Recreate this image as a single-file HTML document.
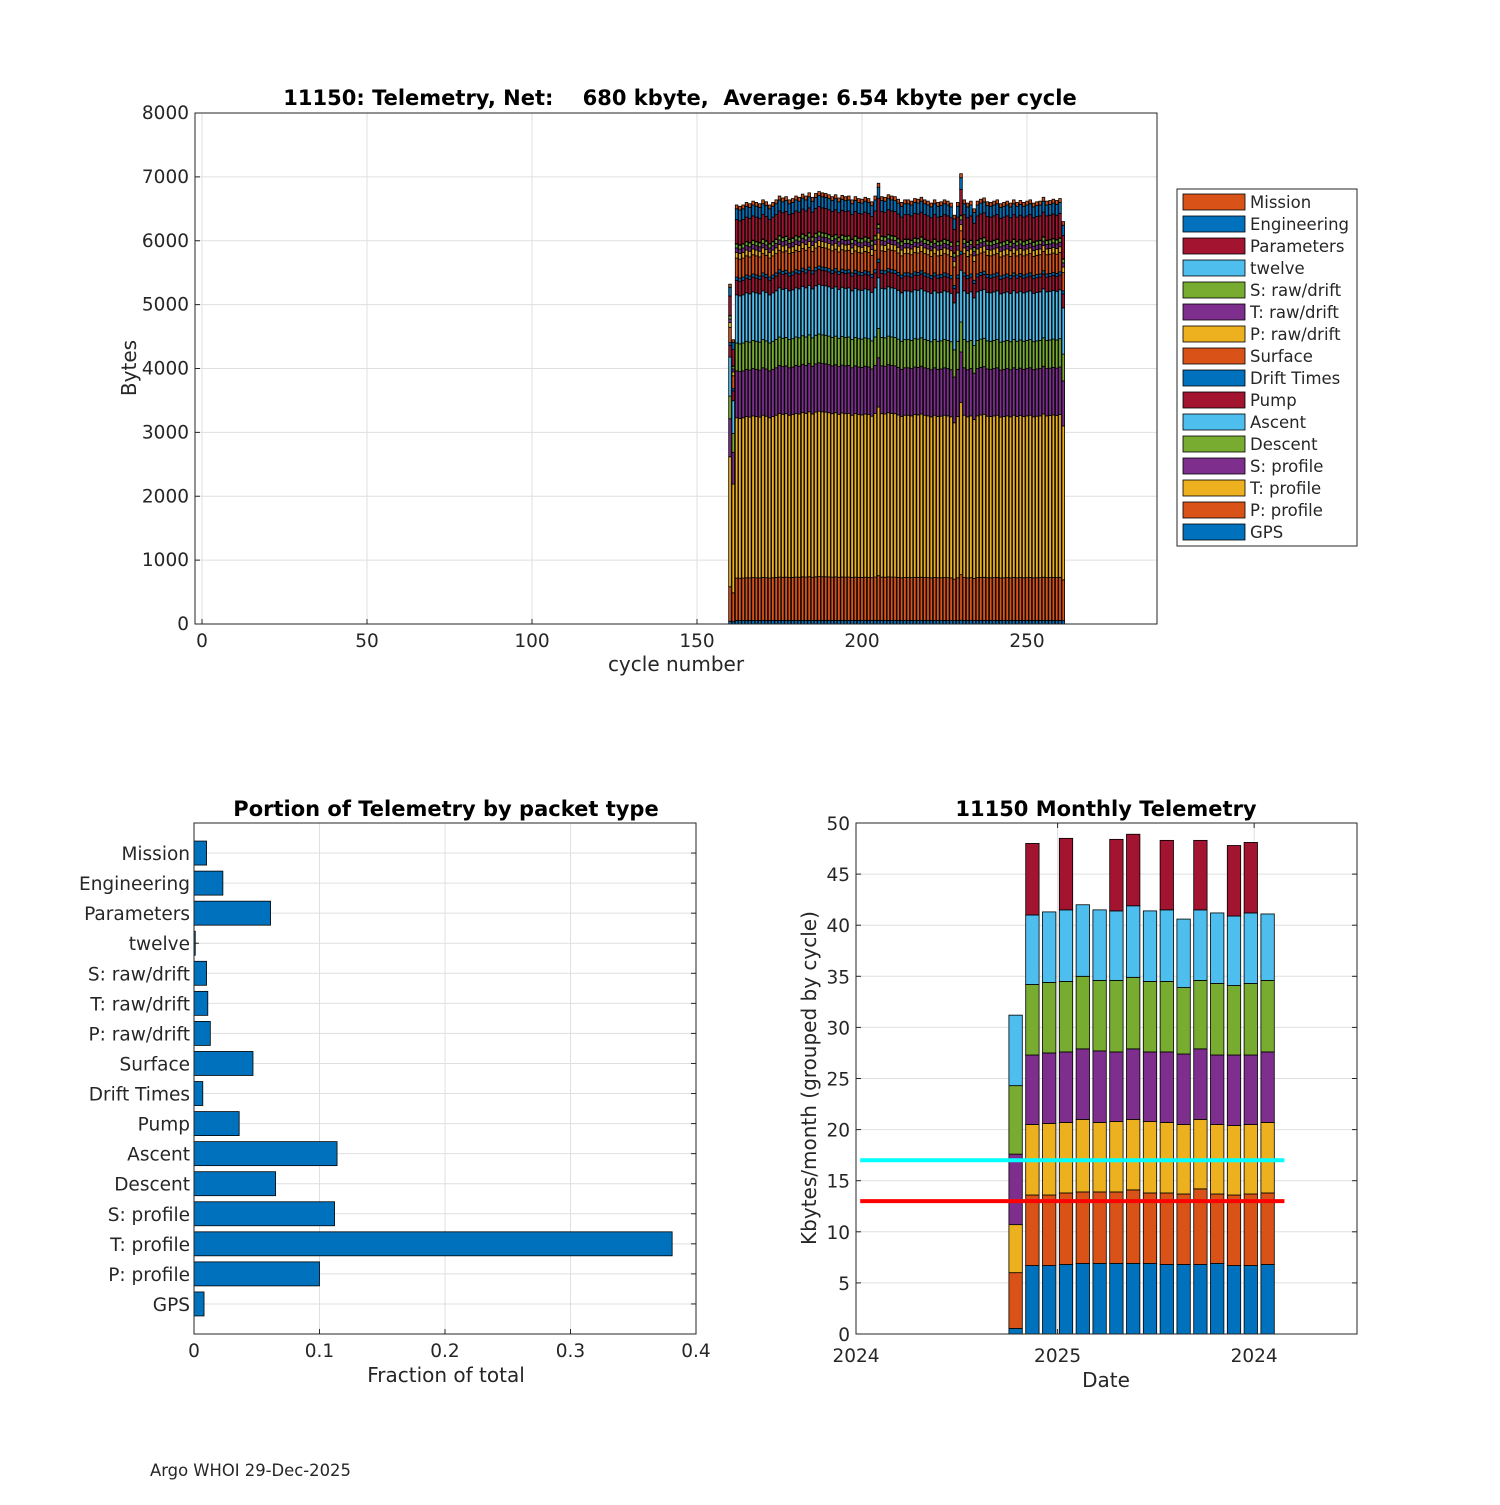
<!DOCTYPE html>
<html><head><meta charset="utf-8"><style>
body{margin:0;background:#fff;}
svg text{font-family:"DejaVu Sans","Liberation Sans",sans-serif;fill:#262626;}
</style></head><body>
<svg id="fig" width="1500" height="1500" xmlns="http://www.w3.org/2000/svg">
<rect width="1500" height="1500" fill="#fff"/>
<g id="top"></g><g id="bl"></g><g id="br"></g>
<text x="150" y="1476" font-size="16.4">Argo WHOI 29-Dec-2025</text>
</svg>
<script>
const NS="http://www.w3.org/2000/svg";
function mk(p,tag,a,name){const e=document.createElementNS(NS,tag);for(const k in a)e.setAttribute(k,a[k]);


p.appendChild(e);return e;}
function txt(p,x,y,s,a,name){const t=mk(p,'text',Object.assign({x:x,y:y},a),name);t.textContent=s;return t;}

// ---------- TOP CHART DATA ----------
const layerNames=["GPS","P: profile","T: profile","S: profile","Descent","Ascent","Pump","Drift Times","Surface","P: raw/drift","T: raw/drift","S: raw/drift","twelve","Parameters","Engineering","Mission"];
const layerColors=["#0072bd","#d95319","#edb120","#7e2f8e","#77ac30","#4dbeee","#a2142f","#0072bd","#d95319","#edb120","#7e2f8e","#77ac30","#4dbeee","#a2142f","#0072bd","#d95319"];
const layerBase=[55,670,2530,740,440,760,230,50,300,90,70,60,8,380,170,60];
const cycleStart=160;
const cycleTotals=[5320,4450,6560,6540,6560,6600,6580,6620,6600,6580,6640,6610,6560,6600,6640,6700,6670,6690,6640,6660,6700,6680,6730,6700,6750,6680,6740,6770,6750,6740,6720,6690,6720,6670,6710,6690,6700,6640,6690,6660,6650,6680,6660,6610,6700,6900,6690,6680,6720,6700,6690,6650,6600,6640,6640,6620,6660,6650,6680,6640,6620,6590,6640,6600,6610,6640,6620,6590,6400,6600,7050,6640,6590,6620,6500,6620,6650,6670,6610,6600,6620,6640,6580,6600,6620,6590,6640,6600,6630,6600,6620,6640,6590,6610,6620,6680,6620,6630,6650,6630,6660,6300];
const topXTicks=[0,50,100,150,200,250];
const topYTicks=[0,1000,2000,3000,4000,5000,6000,7000,8000];

(function(){
const g=document.getElementById('top');
const L=195,R=1157,T=113,B=624;
const xs=v=>202+(v)*3.3, ys=v=>B-(v)/8000*(B-T);
mk(g,'rect',{x:L,y:T,width:R-L,height:B-T,fill:'#fff'},'top-plot-area');
topXTicks.forEach(t=>{mk(g,'line',{x1:xs(t),x2:xs(t),y1:T,y2:B,stroke:'#dfdfdf'},'top-x-grid');
 mk(g,'line',{x1:xs(t),x2:xs(t),y1:B,y2:B-5,stroke:'#262626'},'top-x-tick');
 txt(g,xs(t),647,t,{'font-size':18.5,'text-anchor':'middle'},'top-x-tick-label');});
topYTicks.forEach(t=>{mk(g,'line',{x1:L,x2:R,y1:ys(t),y2:ys(t),stroke:'#dfdfdf'},'top-y-grid');
 mk(g,'line',{x1:L,x2:L+5,y1:ys(t),y2:ys(t),stroke:'#262626'},'top-y-tick');
 txt(g,L-6,ys(t)+6,t,{'font-size':18.5,'text-anchor':'end'},'top-y-tick-label');});
const baseSum=layerBase.reduce((a,b)=>a+b,0);
cycleTotals.forEach((tot,i)=>{const c=cycleStart+i;let acc=0;const k=tot/baseSum;
 layerBase.forEach((v,j)=>{const val=v*k;const y0=ys(acc),y1=ys(acc+val);
  mk(g,'rect',{x:xs(c)-1.3,y:y1,width:2.6,height:Math.max(0,y0-y1),fill:layerColors[j],stroke:'#000','stroke-width':0.8},'bar-cycle-'+c+'-'+j);acc+=val;});});
mk(g,'rect',{x:L,y:T,width:R-L,height:B-T,fill:'none',stroke:'#262626'},'top-axes-box');
txt(g,680,105,"11150: Telemetry, Net:    680 kbyte,  Average: 6.54 kbyte per cycle",{'font-size':21,'font-weight':'bold','text-anchor':'middle','style':'white-space:pre;fill:#000'},'top-chart-title');
txt(g,676,671,"cycle number",{'font-size':20,'text-anchor':'middle'},'top-x-axis-title');
txt(g,136,368,"Bytes",{'font-size':20,'text-anchor':'middle',transform:'rotate(-90 136 368)'},'top-y-axis-title');
const lg=mk(g,'g',{},'top-legend');
mk(lg,'rect',{x:1177,y:189,width:180,height:357,fill:'#fff',stroke:'#262626'},'legend-box');
for(let r=0;r<16;r++){const j=15-r;const y=202+r*22;
 mk(lg,'rect',{x:1183,y:y-8,width:62,height:16,fill:layerColors[j],stroke:'#000','stroke-width':0.8},'legend-swatch');
 txt(lg,1250,y+6,layerNames[j],{'font-size':16.5},'legend-entry');}
})();

// ---------- BOTTOM LEFT DATA ----------
const packetNames=["GPS","P: profile","T: profile","S: profile","Descent","Ascent","Pump","Drift Times","Surface","P: raw/drift","T: raw/drift","S: raw/drift","twelve","Parameters","Engineering","Mission"];
const packetFractions=[0.008,0.100,0.381,0.112,0.065,0.114,0.036,0.007,0.047,0.013,0.011,0.010,0.001,0.061,0.023,0.010];
const fracTicks=[0,0.1,0.2,0.3,0.4];

(function(){
const g=document.getElementById('bl');
const L=194,R=696,T=823,B=1334;
const xs=v=>L+v/0.4*(R-L), ys=i=>B-(i+1)*(B-T)/17;
fracTicks.forEach(t=>{mk(g,'line',{x1:xs(t),x2:xs(t),y1:T,y2:B,stroke:'#dfdfdf'},'bl-x-grid');
 mk(g,'line',{x1:xs(t),x2:xs(t),y1:B,y2:B-5,stroke:'#262626'},'bl-x-tick');
 txt(g,xs(t),1357,t,{'font-size':18.5,'text-anchor':'middle'},'bl-x-tick-label');});
packetNames.forEach((n,i)=>{const y=ys(i);
 mk(g,'line',{x1:L,x2:R,y1:y,y2:y,stroke:'#dfdfdf'},'bl-y-grid');
 mk(g,'line',{x1:L,x2:L+5,y1:y,y2:y,stroke:'#262626'},'bl-y-tick');
 mk(g,'line',{x1:R,x2:R-5,y1:y,y2:y,stroke:'#262626'},'bl-y-tick-right');
 txt(g,L-4,y+7,n,{'font-size':18.5,'text-anchor':'end'},'bl-category-label');
 mk(g,'rect',{x:L,y:y-12,width:xs(packetFractions[i])-L,height:24,fill:'#0072bd',stroke:'#000','stroke-width':0.8},'bar-'+n.replace(/[^a-zA-Z]+/g,'-').toLowerCase());});
mk(g,'rect',{x:L,y:T,width:R-L,height:B-T,fill:'none',stroke:'#262626'},'bl-axes-box');
txt(g,446,816,"Portion of Telemetry by packet type",{'font-size':21,'font-weight':'bold','text-anchor':'middle','style':'fill:#000'},'bl-chart-title');
txt(g,446,1382,"Fraction of total",{'font-size':20,'text-anchor':'middle'},'bl-x-axis-title');
})();

// ---------- BOTTOM RIGHT DATA ----------
const monthPos=[9.5,10.5,11.5,12.5,13.5,14.5,15.5,16.5,17.5,18.5,19.5,20.5,21.5,22.5,23.5,24.5];
const mGPS   =[0.55,6.7,6.7,6.8,6.9,6.9,6.9,6.9,6.9,6.8,6.8,6.8,6.9,6.7,6.7,6.8];
const mPprof =[5.45,6.9,6.9,7.0,7.0,7.0,7.0,7.2,6.9,7.0,6.9,7.4,6.8,6.9,7.0,7.0];
const mTprof =[4.7,6.9,7.0,6.9,7.1,6.8,6.9,6.9,7.0,6.9,6.8,6.8,6.8,6.8,6.8,6.9];
const mSprof =[6.9,6.8,6.9,6.9,6.9,7.0,6.8,6.9,6.8,6.9,6.9,6.9,6.8,6.9,6.8,6.9];
const mDesc  =[6.7,6.9,6.9,6.9,7.1,6.9,7.0,7.0,6.9,6.9,6.5,6.7,7.0,6.8,7.0,7.0];
const mAsc   =[6.9,6.8,6.9,7.0,7.0,6.9,6.8,7.0,6.9,7.0,6.7,6.9,6.9,6.8,6.9,6.5];
const mPump  =[0,7.0,0,7.0,0,0,7.0,7.0,0,6.8,0,6.8,0,6.9,6.9,0];
const monthSeries=[mGPS,mPprof,mTprof,mSprof,mDesc,mAsc,mPump];
const monthColors=["#0072bd","#d95319","#edb120","#7e2f8e","#77ac30","#4dbeee","#a2142f"];
const monthYTicks=[0,5,10,15,20,25,30,35,40,45,50];
const dateTickPos=[0,12,23.7];
const dateTickLabels=["2024","2025","2024"];
const cyanLevel=17, redLevel=13;
const lineStart=0.25, lineEnd=25.5;

(function(){
const g=document.getElementById('br');
const L=856,R=1357,T=823,B=1334;
const xs=m=>L+m*16.8, ys=v=>B-v/50*(B-T);
monthYTicks.forEach(t=>{mk(g,'line',{x1:L,x2:R,y1:ys(t),y2:ys(t),stroke:'#dfdfdf'},'br-y-grid');
 mk(g,'line',{x1:L,x2:L+5,y1:ys(t),y2:ys(t),stroke:'#262626'},'br-y-tick');
 mk(g,'line',{x1:R,x2:R-5,y1:ys(t),y2:ys(t),stroke:'#262626'},'br-y-tick-right');
 txt(g,L-6,ys(t)+7,t,{'font-size':18.5,'text-anchor':'end'},'br-y-tick-label');});
dateTickPos.forEach((m,i)=>{mk(g,'line',{x1:xs(m),x2:xs(m),y1:T,y2:B,stroke:'#dfdfdf'},'br-x-grid');
 mk(g,'line',{x1:xs(m),x2:xs(m),y1:B,y2:B-5,stroke:'#262626'},'br-x-tick');
 mk(g,'line',{x1:xs(m),x2:xs(m),y1:T,y2:T+5,stroke:'#262626'},'br-x-tick-top');
 txt(g,xs(m),1362,dateTickLabels[i],{'font-size':18.5,'text-anchor':'middle'},'br-x-tick-label');});
monthPos.forEach((m,i)=>{let acc=0;
 monthSeries.forEach((s,j)=>{const v=s[i];if(v<=0)return;const y0=ys(acc),y1=ys(acc+v);
  mk(g,'rect',{x:xs(m)-6.7,y:y1,width:13.4,height:y0-y1,fill:monthColors[j],stroke:'#000','stroke-width':0.8},'month-bar-'+i+'-'+j);acc+=v;});});
mk(g,'line',{x1:xs(lineStart),x2:xs(lineEnd),y1:ys(cyanLevel),y2:ys(cyanLevel),stroke:'#00ffff','stroke-width':4},'cyan-reference-line');
mk(g,'line',{x1:xs(lineStart),x2:xs(lineEnd),y1:ys(redLevel),y2:ys(redLevel),stroke:'#ff0000','stroke-width':4},'red-reference-line');
mk(g,'rect',{x:L,y:T,width:R-L,height:B-T,fill:'none',stroke:'#262626'},'br-axes-box');
txt(g,1106,816,"11150 Monthly Telemetry",{'font-size':21,'font-weight':'bold','text-anchor':'middle','style':'fill:#000'},'br-chart-title');
txt(g,1106,1387,"Date",{'font-size':20,'text-anchor':'middle'},'br-x-axis-title');
txt(g,816,1078,"Kbytes/month (grouped by cycle)",{'font-size':20,'text-anchor':'middle',transform:'rotate(-90 816 1078)'},'br-y-axis-title');
})();
</script>
</body></html>
